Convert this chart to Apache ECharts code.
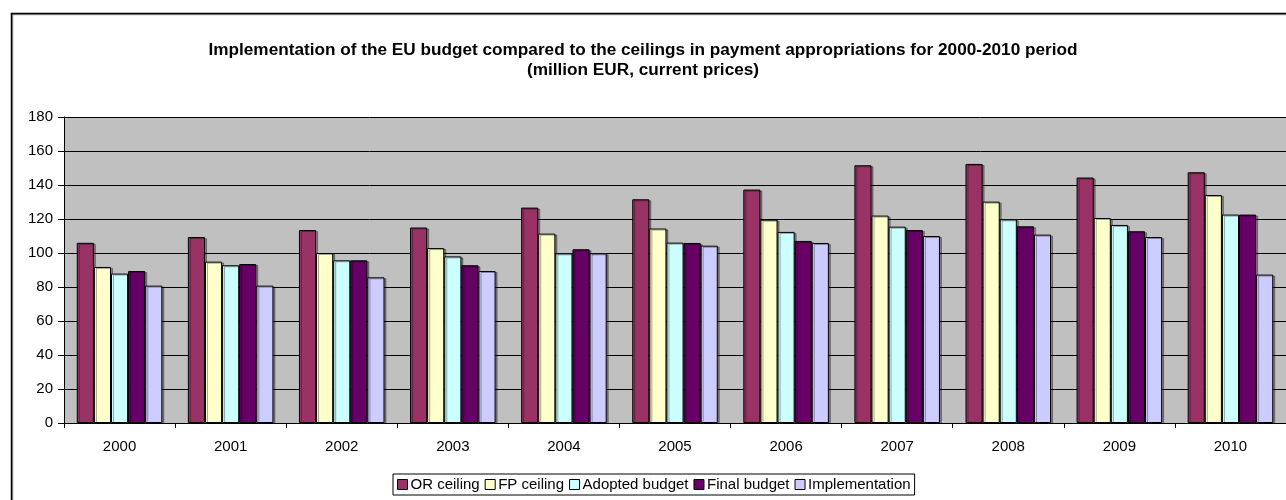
<!DOCTYPE html>
<html><head><meta charset="utf-8">
<script src="https://cdn.jsdelivr.net/npm/echarts@6/dist/echarts.min.js"></script>
<style>html,body{margin:0;padding:0;background:#fff}#c{width:1286px;height:500px}</style>
</head><body><div id="c"></div>
<script>
const years = ['2000','2001','2002','2003','2004','2005','2006','2007','2008','2009','2010'];
const orCeiling = [106, 109.4, 113.5, 115, 126.7, 131.6, 137.3, 151.6, 152.4, 144.4, 147.5];
const fpCeiling = [91.8, 94.9, 100, 102.9, 111.4, 114.4, 119.6, 122, 130.2, 120.6, 134.1];
const adoptedBudget = [87.9, 92.8, 95.7, 98, 99.8, 106.1, 112.4, 115.5, 119.8, 116.5, 122.6];
const finalBudget = [89.4, 93.5, 95.7, 92.8, 102.2, 105.9, 107.1, 113.5, 115.7, 112.8, 122.6];
const implementation = [80.8, 80.8, 85.7, 89.4, 99.8, 104.3, 105.9, 110, 110.8, 109.4, 87.3];
const yTicks = [0, 20, 40, 60, 80, 100, 120, 140, 160, 180];

const names = ['OR ceiling','FP ceiling','Adopted budget','Final budget','Implementation'];
const colors = ['#993366','#FFFFCC','#CCFFFF','#660066','#CCCCFF'];
const datas = [orCeiling, fpCeiling, adoptedBudget, finalBudget, implementation];
const FONT = 'Liberation Sans, Arial, sans-serif';

const chart = echarts.init(document.getElementById('c'));
chart.setOption({
  animation: false,
  textStyle: { fontFamily: FONT },
  title: {
    text: 'Implementation of the EU budget compared to the ceilings in payment appropriations for 2000-2010 period\n(million EUR, current prices)',
    left: 'center', top: 35,
    textStyle: { fontSize: 17.2, fontWeight: 'bold', color: '#000', lineHeight: 20, fontFamily: FONT }
  },
  graphic: [{
    type: 'rect', shape: { x: 11.5, y: 13.5, width: 1290, height: 500 },
    style: { fill: 'none', stroke: '#000', lineWidth: 1.5, shadowColor: 'rgba(0,0,0,0.4)', shadowOffsetX: 1, shadowOffsetY: 1 }, silent: true, z: -1
  }],
  legend: {
    top: 474, left: 393,
    data: names,
    itemWidth: 10, itemHeight: 10, itemGap: 5,
    icon: 'rect',
    borderColor: '#000', borderWidth: 1, padding: [3, 4, 3, 4],
    textStyle: { fontSize: 15, color: '#000', padding: [0, 0, 0, -2] },
    itemStyle: { borderColor: '#000', borderWidth: 1 }
  },
  grid: { left: 64, right: 0, top: 117, bottom: 77, show: true, backgroundColor: '#C0C0C0', borderWidth: 0 },
  xAxis: {
    type: 'category', data: years,
    axisLine: { lineStyle: { color: '#000' } },
    axisTick: { show: true, alignWithLabel: false, length: 5, lineStyle: { color: '#000' } },
    axisLabel: { color: '#000', fontSize: 15, margin: 16 }
  },
  yAxis: {
    type: 'value', min: yTicks[0], max: yTicks[yTicks.length - 1], interval: 20,
    axisLine: { show: true, lineStyle: { color: '#000' } },
    axisTick: { show: true, length: 6, lineStyle: { color: '#000' } },
    axisLabel: { color: '#000', fontSize: 15, margin: 11 },
    splitLine: { show: true, lineStyle: { color: '#000', width: 1 } }
  },
  series: names.map((n, i) => ({
    name: n, type: 'bar', data: datas[i],
    barGap: '0%', barCategoryGap: '23%',
    itemStyle: { color: colors[i], borderColor: '#000', borderWidth: 1,
      shadowColor: 'rgba(0,0,0,0.35)', shadowOffsetX: 2, shadowOffsetY: 1, shadowBlur: 0 }
  }))
});
</script></body></html>
